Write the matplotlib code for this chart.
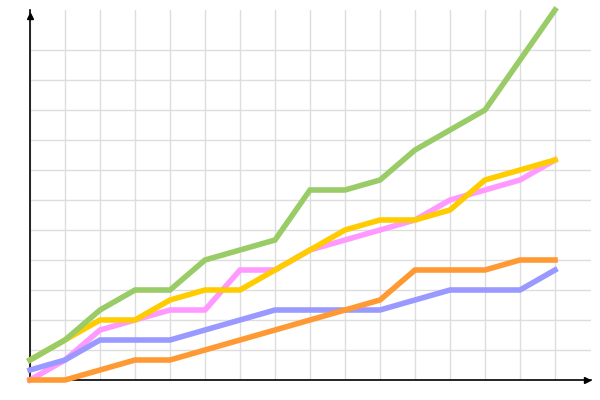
import matplotlib
matplotlib.use('Agg')
import matplotlib.pyplot as plt
import numpy as np

# series values, one point per column (16 columns)
green = [2, 4, 7, 9, 9, 12, 13, 14, 19, 19, 20, 23, 25, 27, 32, 37]
yellow = [2, 4, 6, 6, 8, 9, 9, 11, 13, 15, 16, 16, 17, 20, 21, 22]
pink = [0, 2, 5, 6, 7, 7, 11, 11, 13, 14, 15, 16, 18, 19, 20, 22]
blue = [1, 2, 4, 4, 4, 5, 6, 7, 7, 7, 7, 8, 9, 9, 9, 11]
orange = [0, 0, 1, 2, 2, 3, 4, 5, 6, 7, 8, 11, 11, 11, 12, 12]

x = np.arange(len(green))

fig = plt.figure(figsize=(6, 4), dpi=100)
ax = fig.add_axes([30 / 600, 20 / 400, 561 / 600, 370 / 400])

# draw order: later ones on top
for vals, col in [(pink, '#FF99FF'), (yellow, '#FFCC00'), (green, '#99CC66'),
                  (blue, '#9999FF'), (orange, '#FF9933')]:
    ax.plot(x, vals, color=col, lw=4, solid_joinstyle='miter', clip_on=False, zorder=3)

ax.set_xlim(0, 561 / 35)
ax.set_ylim(0, 37)
ax.set_xticks(x)
ax.set_yticks(np.arange(3, 34, 3))
ax.grid(True, color='#DDDDDD', lw=1)
ax.set_axisbelow(True)
ax.tick_params(length=0, labelbottom=False, labelleft=False)

for s in ['top', 'right']:
    ax.spines[s].set_visible(False)
ax.spines['left'].set_color('black')
ax.spines['bottom'].set_color('black')
ax.spines['left'].set_linewidth(1.2)
ax.spines['bottom'].set_linewidth(1.2)

# small arrow heads on the axes
ax.plot([0], [0.985], marker='^', color='black', ms=4, transform=ax.transAxes, clip_on=False)
ax.plot([0.993], [0], marker='>', color='black', ms=4, transform=ax.transAxes, clip_on=False)

plt.savefig('out.png', dpi=100)
